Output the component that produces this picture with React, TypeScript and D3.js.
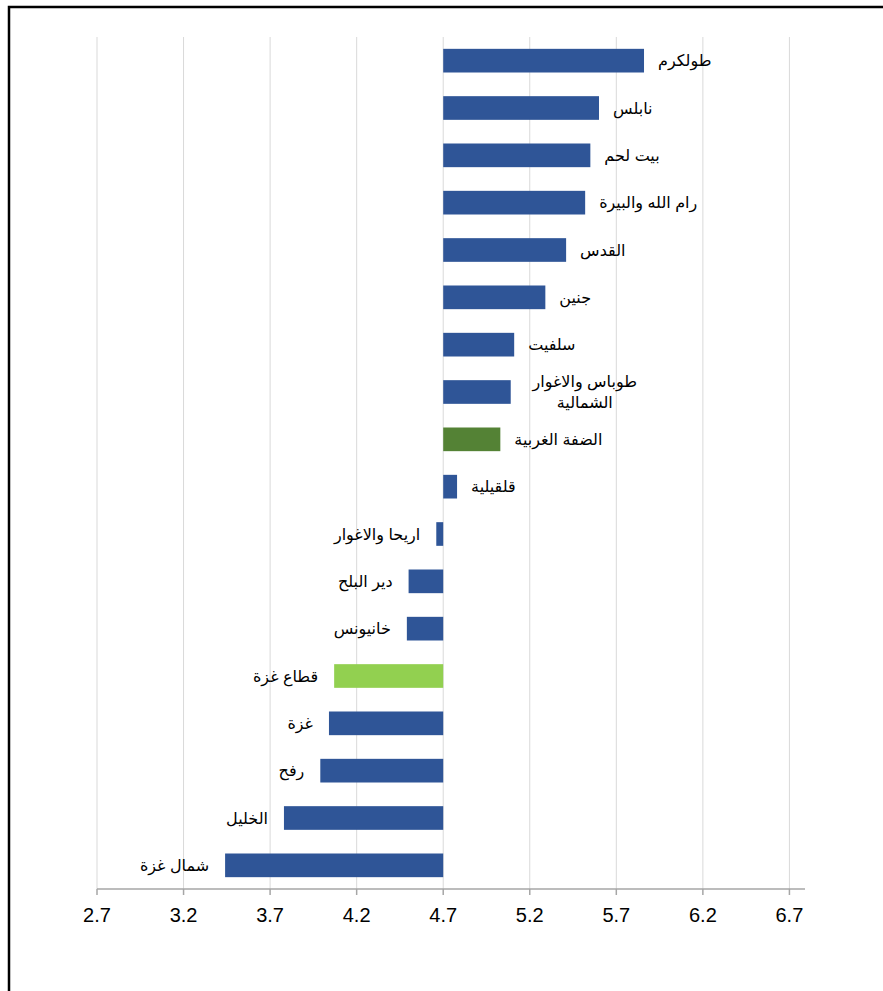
import React from 'react';
import * as d3 from 'd3';

// Categories top-to-bottom
const categories: string[] = [
  'طولكرم',
  'نابلس',
  'بيت لحم',
  'رام الله والبيرة',
  'القدس',
  'جنين',
  'سلفيت',
  'طوباس والاغوار\nالشمالية',
  'الضفة الغربية',
  'قلقيلية',
  'اريحا والاغوار',
  'دير البلح',
  'خانيونس',
  'قطاع غزة',
  'غزة',
  'رفح',
  'الخليل',
  'شمال غزة',
];

const values: number[] = [
  5.86, 5.6, 5.55, 5.52, 5.41, 5.29, 5.11, 5.09, 5.03, 4.78,
  4.66, 4.5, 4.49, 4.07, 4.04, 3.99, 3.78, 3.44,
];

const westBankTotal = 'الضفة الغربية';
const gazaTotal = 'قطاع غزة';
const baseline = 4.7;
const tickValues: number[] = [2.7, 3.2, 3.7, 4.2, 4.7, 5.2, 5.7, 6.2, 6.7];
const axisMax = 6.79;

const W = 883;
const H = 991;

export default function App() {
  const x = d3.scaleLinear().domain([tickValues[0], axisMax]).range([97, 805]);
  const y = d3
    .scaleBand<string>()
    .domain(categories)
    .range([37, 889])
    .paddingInner(0.5)
    .paddingOuter(0.25);

  const color = (c: string) =>
    c === westBankTotal ? '#548235' : c === gazaTotal ? '#92D050' : '#2F5597';

  const labelFont = "'Liberation Sans', Arial, 'DejaVu Sans', sans-serif";
  const fmt = d3.format('.1f');

  return (
    <svg
      width={W}
      height={H}
      style={{ position: 'absolute', left: 0, top: 0, background: '#fff' }}
    >
      <rect x={0} y={0} width={W} height={H} fill="#fff" />
      {/* frame */}
      <rect x={9} y={7} width={W + 20} height={H + 20} fill="none" stroke="#000" strokeWidth={2.5} />
      {/* gridlines */}
      {tickValues.map((t) => (
        <line key={'g' + t} x1={x(t)} x2={x(t)} y1={37} y2={889} stroke="#D9D9D9" strokeWidth={1} />
      ))}
      {/* bars */}
      {categories.map((c, i) => {
        const v = values[i];
        const x0 = x(Math.min(v, baseline));
        const x1 = x(Math.max(v, baseline));
        return (
          <rect key={'b' + c} x={x0} y={y(c)!} width={x1 - x0} height={y.bandwidth()} fill={color(c)} />
        );
      })}
      {/* labels */}
      {categories.map((c, i) => {
        const v = values[i];
        const cy = y(c)! + y.bandwidth() / 2;
        const lines = c.split('\n');
        const pos = v >= baseline;
        if (lines.length > 1) {
          const cx = pos ? x(v) + 74 : x(v) - 74;
          return (
            <text key={'l' + c} fontFamily={labelFont} fontSize={16} fill="#000" textAnchor="middle">
              {lines.map((ln, k) => (
                <tspan key={k} x={cx} y={cy + (k - (lines.length - 1) / 2) * 21.5} dy="0.35em">
                  {ln}
                </tspan>
              ))}
            </text>
          );
        }
        return (
          <text
            key={'l' + c}
            x={pos ? x(v) + 14 : x(v) - 16}
            y={cy}
            dy="0.35em"
            fontFamily={labelFont}
            fontSize={16}
            fill="#000"
            textAnchor={pos ? 'start' : 'end'}
          >
            {c}
          </text>
        );
      })}
      {/* x axis */}
      <line x1={x(tickValues[0])} x2={x(axisMax)} y1={889} y2={889} stroke="#A6A6A6" strokeWidth={1.5} />
      {tickValues.map((t) => (
        <g key={'t' + t}>
          <line x1={x(t)} x2={x(t)} y1={889} y2={895} stroke="#A6A6A6" strokeWidth={1.5} />
          <text
            x={x(t)}
            y={922}
            textAnchor="middle"
            fontFamily={labelFont}
            fontSize={20}
            fill="#000"
          >
            {fmt(t)}
          </text>
        </g>
      ))}
    </svg>
  );
}
